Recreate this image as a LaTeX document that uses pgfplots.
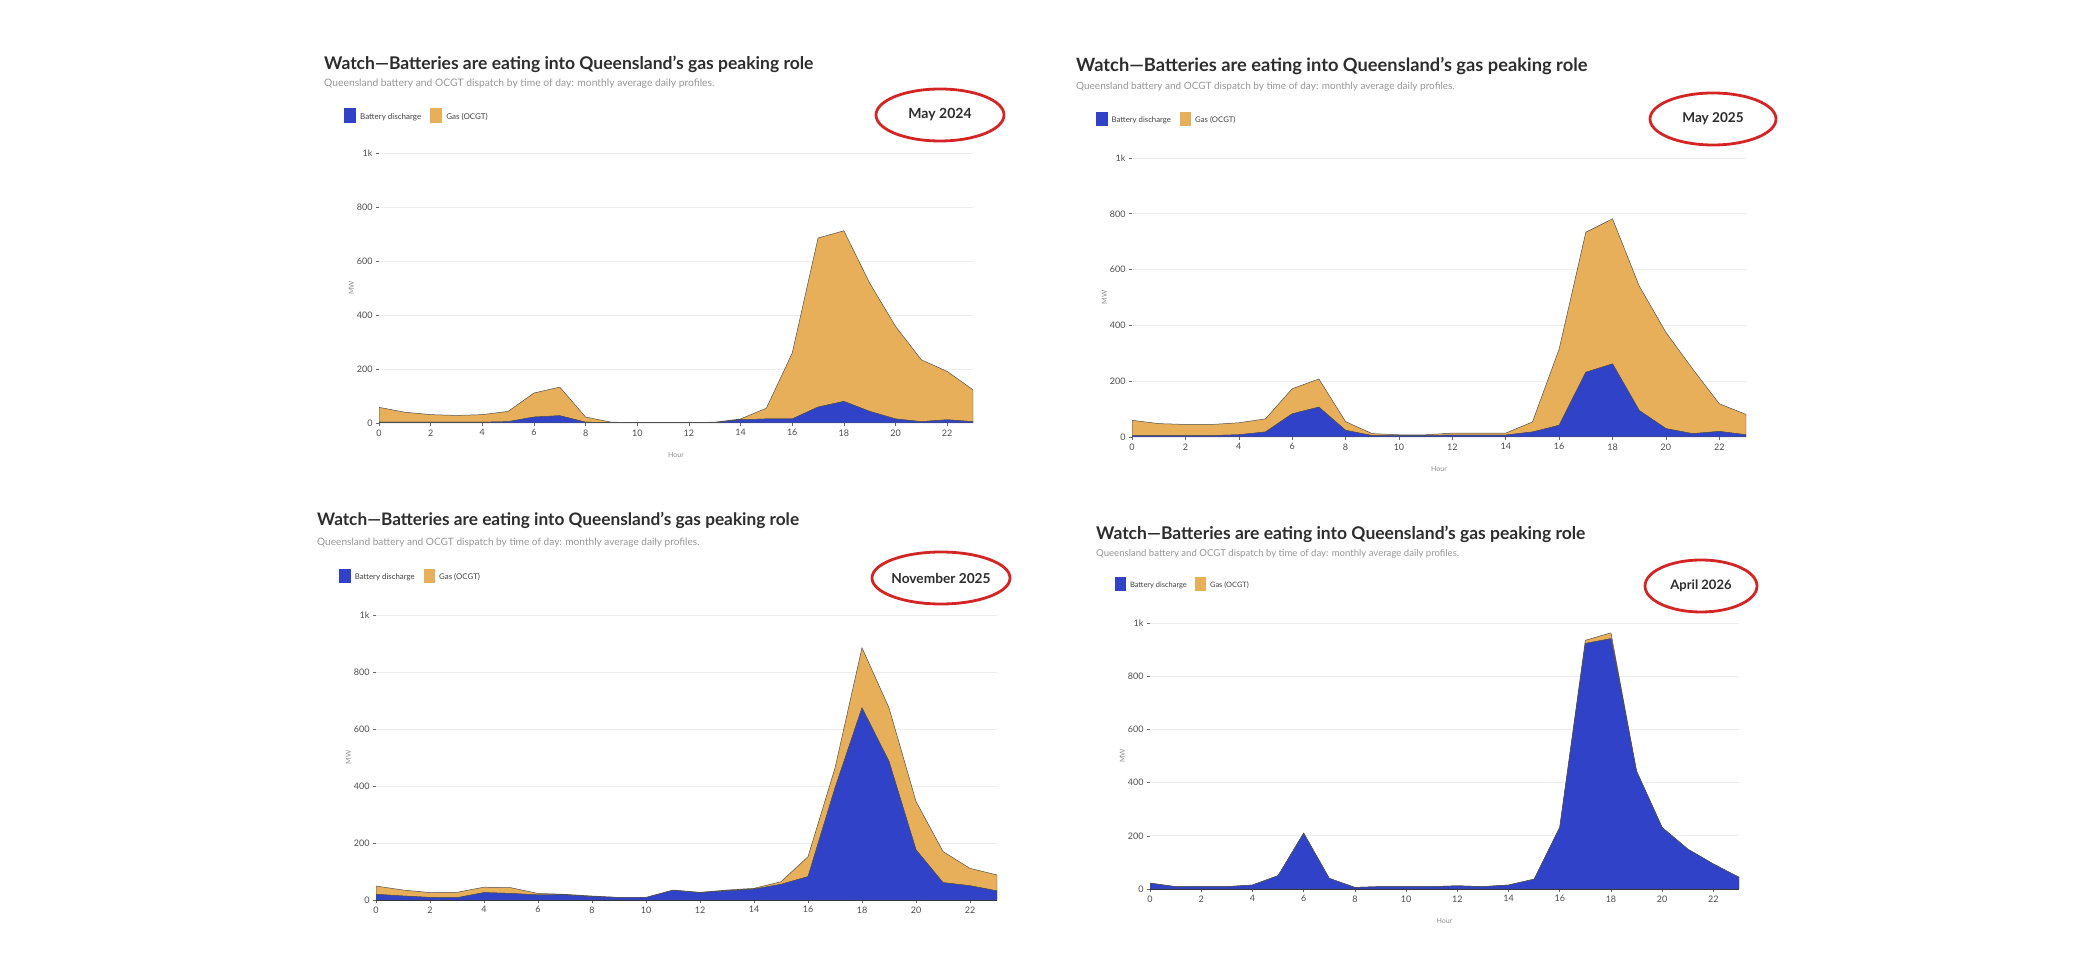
\documentclass[border=0pt]{standalone}
\usepackage{pgfplots}
\usepackage{pgfplotstable}
\pgfplotsset{compat=1.18}
\usepackage{fontspec}
\setmainfont{Lato}
\definecolor{bat}{RGB}{48,66,200}
\definecolor{gas}{RGB}{231,175,90}
\definecolor{edge}{RGB}{80,80,80}
\definecolor{ring}{RGB}{212,36,36}
\definecolor{ttl}{RGB}{45,45,45}
\definecolor{sub}{RGB}{150,150,150}

\pgfplotstableread{
h b g
0 3 55
1 3 37
2 3 28
3 3 25
4 3 28
5 5 38
6 22 89
7 27 106
8 3 19
9 2 1
10 2 0
11 2 0
12 2 0
13 2 1
14 12 3
15 15 40
16 15 244
17 59 626
18 80 632
19 43 475
20 15 343
21 5 229
22 12 179
23 5 118
}\dataA

\pgfplotstableread{
h b g
0 5 55
1 5 43
2 5 40
3 5 40
4 8 43
5 18 47
6 83 90
7 107 101
8 24 31
9 5 7
10 5 3
11 5 3
12 7 7
13 7 7
14 7 7
15 18 36
16 42 273
17 232 502
18 262 520
19 95 446
20 30 345
21 12 232
22 20 99
23 8 73
}\dataB

\pgfplotstableread{
h b g
0 20 29
1 14 21
2 9 17
3 8 19
4 26 19
5 23 20
6 18 5
7 18 2
8 12 2
9 9 0
10 9 0
11 34 1
12 26 1
13 32 3
14 38 3
15 55 9
16 82 70
17 393 70
18 674 211
19 486 188
20 176 170
21 61 109
22 50 61
23 32 56
}\dataC

\pgfplotstableread{
h b g
0 22 0
1 9 0
2 9 0
3 9 0
4 15 0
5 50 0
6 210 0
7 40 0
8 6 0
9 9 0
10 9 0
11 9 0
12 12 0
13 9 0
14 15 0
15 37 0
16 231 2
17 923 12
18 941 22
19 443 0
20 231 0
21 150 0
22 94 0
23 44 0
}\dataD

\pgfplotsset{panel/.style={
  scale only axis, anchor=south west,
  xmin=0, xmax=23, ymin=0, ymax=1000,
  stack plots=y,
  xtick={0,2,...,22}, ytick={0,200,400,600,800,1000},
  yticklabels={0,200,400,600,800,1k},
  axis x line*=bottom, axis y line*=left,
  y axis line style={draw=none},
  x axis line style={draw=black!85, line width=1pt, -},
  tick align=outside,
  major tick length=3pt,
  tick style={black!60, line width=0.6pt},
  ymajorgrids, grid style={black!7, line width=0.7pt},
  tick label style={font=\fontsize{9}{10}\selectfont, text=black!70},
  /pgf/number format/assume math mode=true,
  ylabel={MW},
  label style={font=\fontsize{7}{8}\selectfont, text=black!45},
  xlabel style={yshift=-9pt},
  ylabel style={yshift=-4pt},
}}

\newcommand{\legsq}[1]{\textcolor{#1}{\rule[-3.5pt]{12pt}{15pt}}}
\def\tsc{1.0}
\newcommand{\header}[9]{%
  \node[anchor=base west, inner sep=0, scale=\tsc, text=ttl] at (#1,#2)
    {\fontsize{17.5}{19}\selectfont\bfseries Watch—Batteries are eating into Queensland’s gas peaking role};
  \node[anchor=base west, inner sep=0, scale=#6, text=sub] at (#1,#3)
    {\fontsize{10.3}{12}\selectfont Queensland battery and OCGT dispatch by time of day: monthly average daily profiles.};
  \node[anchor=west, inner sep=0, scale=#6, text=black!75] at (#4,#5)
    {\fontsize{8}{9}\selectfont\legsq{bat}\hspace{4pt}Battery discharge\hspace{9pt}\legsq{gas}\hspace{4pt}Gas (OCGT)};
  \draw[ring, line width=2.8pt] (#7) ellipse [x radius=#8, y radius=26];
  \node[text=ttl, inner sep=0, scale=#6] at (#7) {\fontsize{14}{16}\selectfont\bfseries #9};
}

\begin{document}
\begin{tikzpicture}
\path[use as bounding box] (0pt,0pt) rectangle (2092pt,956pt);

% Top-left: May 2024
\begin{axis}[panel, at={(379pt,533pt)}, width=594pt, height=270pt, xlabel={Hour}]
\addplot[fill=bat, draw=edge, line width=0.5pt] table[x=h,y=b]{\dataA} \closedcycle;
\addplot[fill=gas, draw=edge, line width=0.5pt] table[x=h,y=g]{\dataA} \closedcycle;
\end{axis}

% Top-right: May 2025
\begin{axis}[panel, at={(1132pt,519pt)}, width=614pt, height=279pt, xlabel={Hour}]
\addplot[fill=bat, draw=edge, line width=0.5pt] table[x=h,y=b]{\dataB} \closedcycle;
\addplot[fill=gas, draw=edge, line width=0.5pt] table[x=h,y=g]{\dataB} \closedcycle;
\end{axis}

% Bottom-left: November 2025
\begin{axis}[panel, at={(376pt,56pt)}, width=621pt, height=285pt]
\addplot[fill=bat, draw=edge, line width=0.5pt] table[x=h,y=b]{\dataC} \closedcycle;
\addplot[fill=gas, draw=edge, line width=0.5pt] table[x=h,y=g]{\dataC} \closedcycle;
\end{axis}

% Bottom-right: April 2026
\begin{axis}[panel, at={(1150pt,67pt)}, width=589pt, height=266pt, xlabel={Hour}]
\addplot[fill=bat, draw=edge, line width=0.5pt] table[x=h,y=b]{\dataD} \closedcycle;
\addplot[fill=gas, draw=edge, line width=0.5pt] table[x=h,y=g]{\dataD} \closedcycle;
\end{axis}

\begin{scope}[x=1pt,y=1pt]
\def\tsc{1.0}
\header{324}{886}{869}{344}{840}{1.0}{940,841}{64}{May 2024}
\def\tsc{1.045}
\header{1076}{884}{866}{1096}{837}{0.97}{1713,837}{63}{May 2025}
\def\tsc{0.985}
\header{317}{430}{410}{339}{380}{0.98}{941,378}{69}{November 2025}
\def\tsc{1.0}
\header{1096}{416}{399}{1115}{372}{0.93}{1701,370}{56}{April 2026}
\end{scope}
\end{tikzpicture}
\end{document}
